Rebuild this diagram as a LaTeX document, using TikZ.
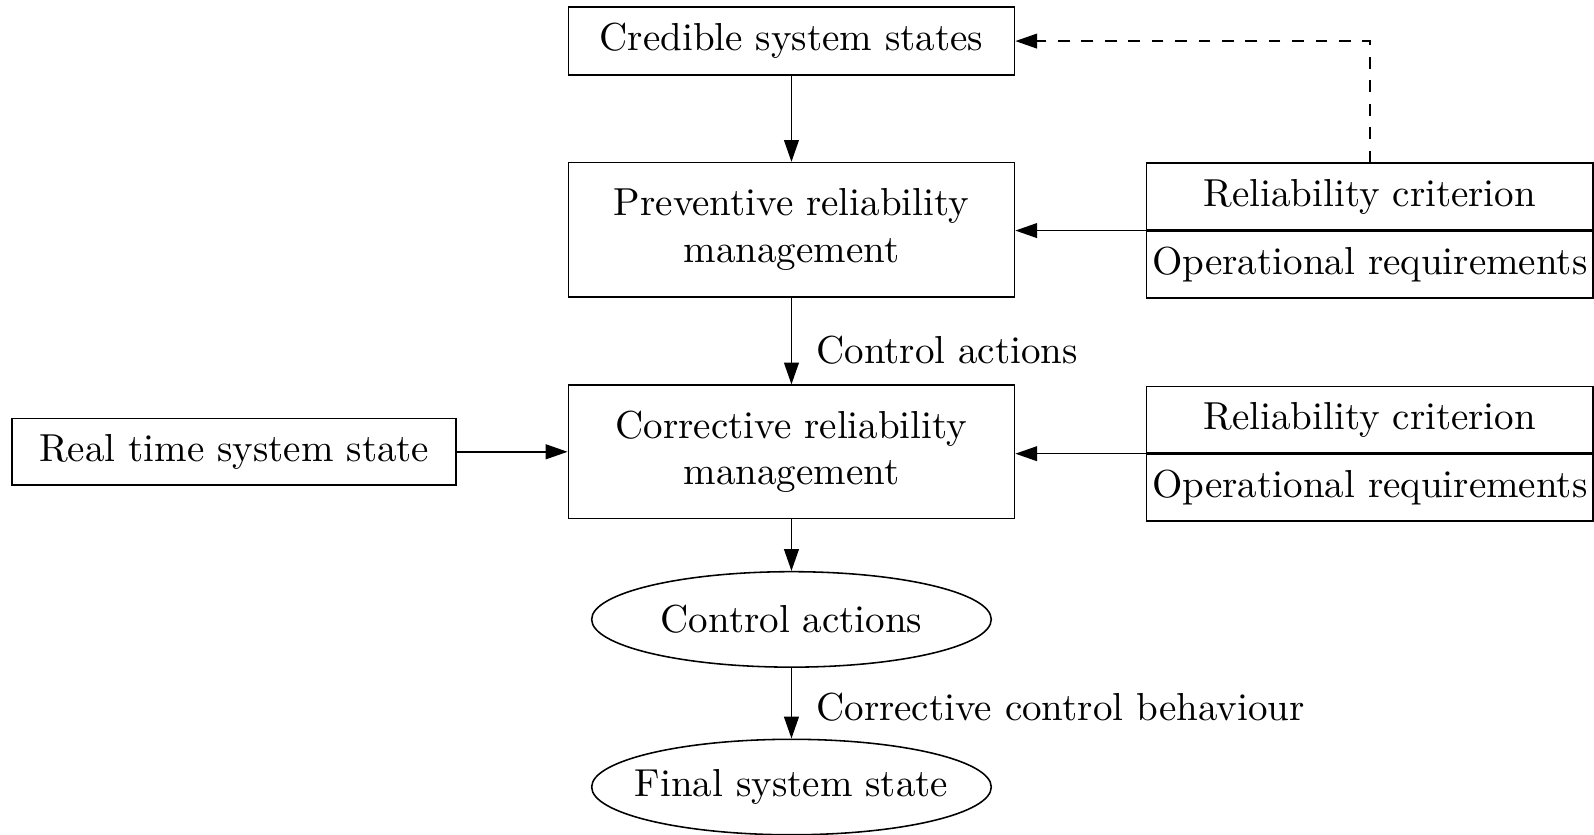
\documentclass[tikz,border=0pt]{standalone}
\usepackage{amsmath,amssymb}
\usepackage{tikz}
\usetikzlibrary{arrows.meta,shapes,positioning}

\begin{document}
\begin{tikzpicture}[>={Triangle[length=5.6pt,width=3.8pt]}]
  % Frame: 14.36cm wide, 7.52cm tall
  \def\W{14.36}
  \def\H{7.52}
  \useasboundingbox (0,0) rectangle (\W,\H);

  \tikzset{
    block/.style={draw, minimum width=4.02cm, align=center, inner sep=1pt},
    halfblock/.style={block, minimum height=0.60cm},
    oval/.style={draw, ellipse, minimum width=3.60cm, minimum height=0.86cm,
      inner xsep=-4pt, inner ysep=1pt}
  }

  % Main chain in the middle
  \node[block, minimum height=0.61cm] (cred) at (7.13, 7.15) {Credible system states};
  \node[block, minimum height=1.21cm] (prev) at (7.13, 5.45) {Preventive reliability\\management};
  \node[block, minimum height=1.20cm] (corr) at (7.13, 3.45) {Corrective reliability\\management};
  \node[oval] (ctrl) at (7.13, 1.94) {Control actions};
  \node[oval] (final) at (7.13, 0.43) {Final system state};

  % Input on the left
  \node[block, minimum width=4.00cm, minimum height=0.60cm] (realtime) at (2.11, 3.45) {Real time system state};

  % Criteria on the right, two stacked halves each
  \node[halfblock] (crit1) at (12.34, 5.75) {Reliability criterion};
  \node[halfblock, below=0pt of crit1] (oper1) {Operational requirements};
  \node[halfblock] (crit2) at (12.34, 3.74) {Reliability criterion};
  \node[halfblock, below=0pt of crit2] (oper2) {Operational requirements};

  % Connectors
  \draw[->] (cred) -- (prev);
  \draw[->] (prev) -- (corr) node[right=0.1cm, pos=0.6] {Control actions};
  \draw[->] (corr) -- (ctrl);
  \draw[->] (ctrl) -- (final) node[right=0.1cm, pos=0.55] {Corrective control behaviour};
  \draw[->] (realtime) -- (corr);
  \draw[->] (crit1.south west) -- (prev.east |- crit1.south west);
  \draw[->] (crit2.south west) -- (corr.east |- crit2.south west);

  % Feedback of the criterion to the credible states
  \draw[->, dashed] (crit1.north) |- (cred.east);
\end{tikzpicture}
\end{document}
